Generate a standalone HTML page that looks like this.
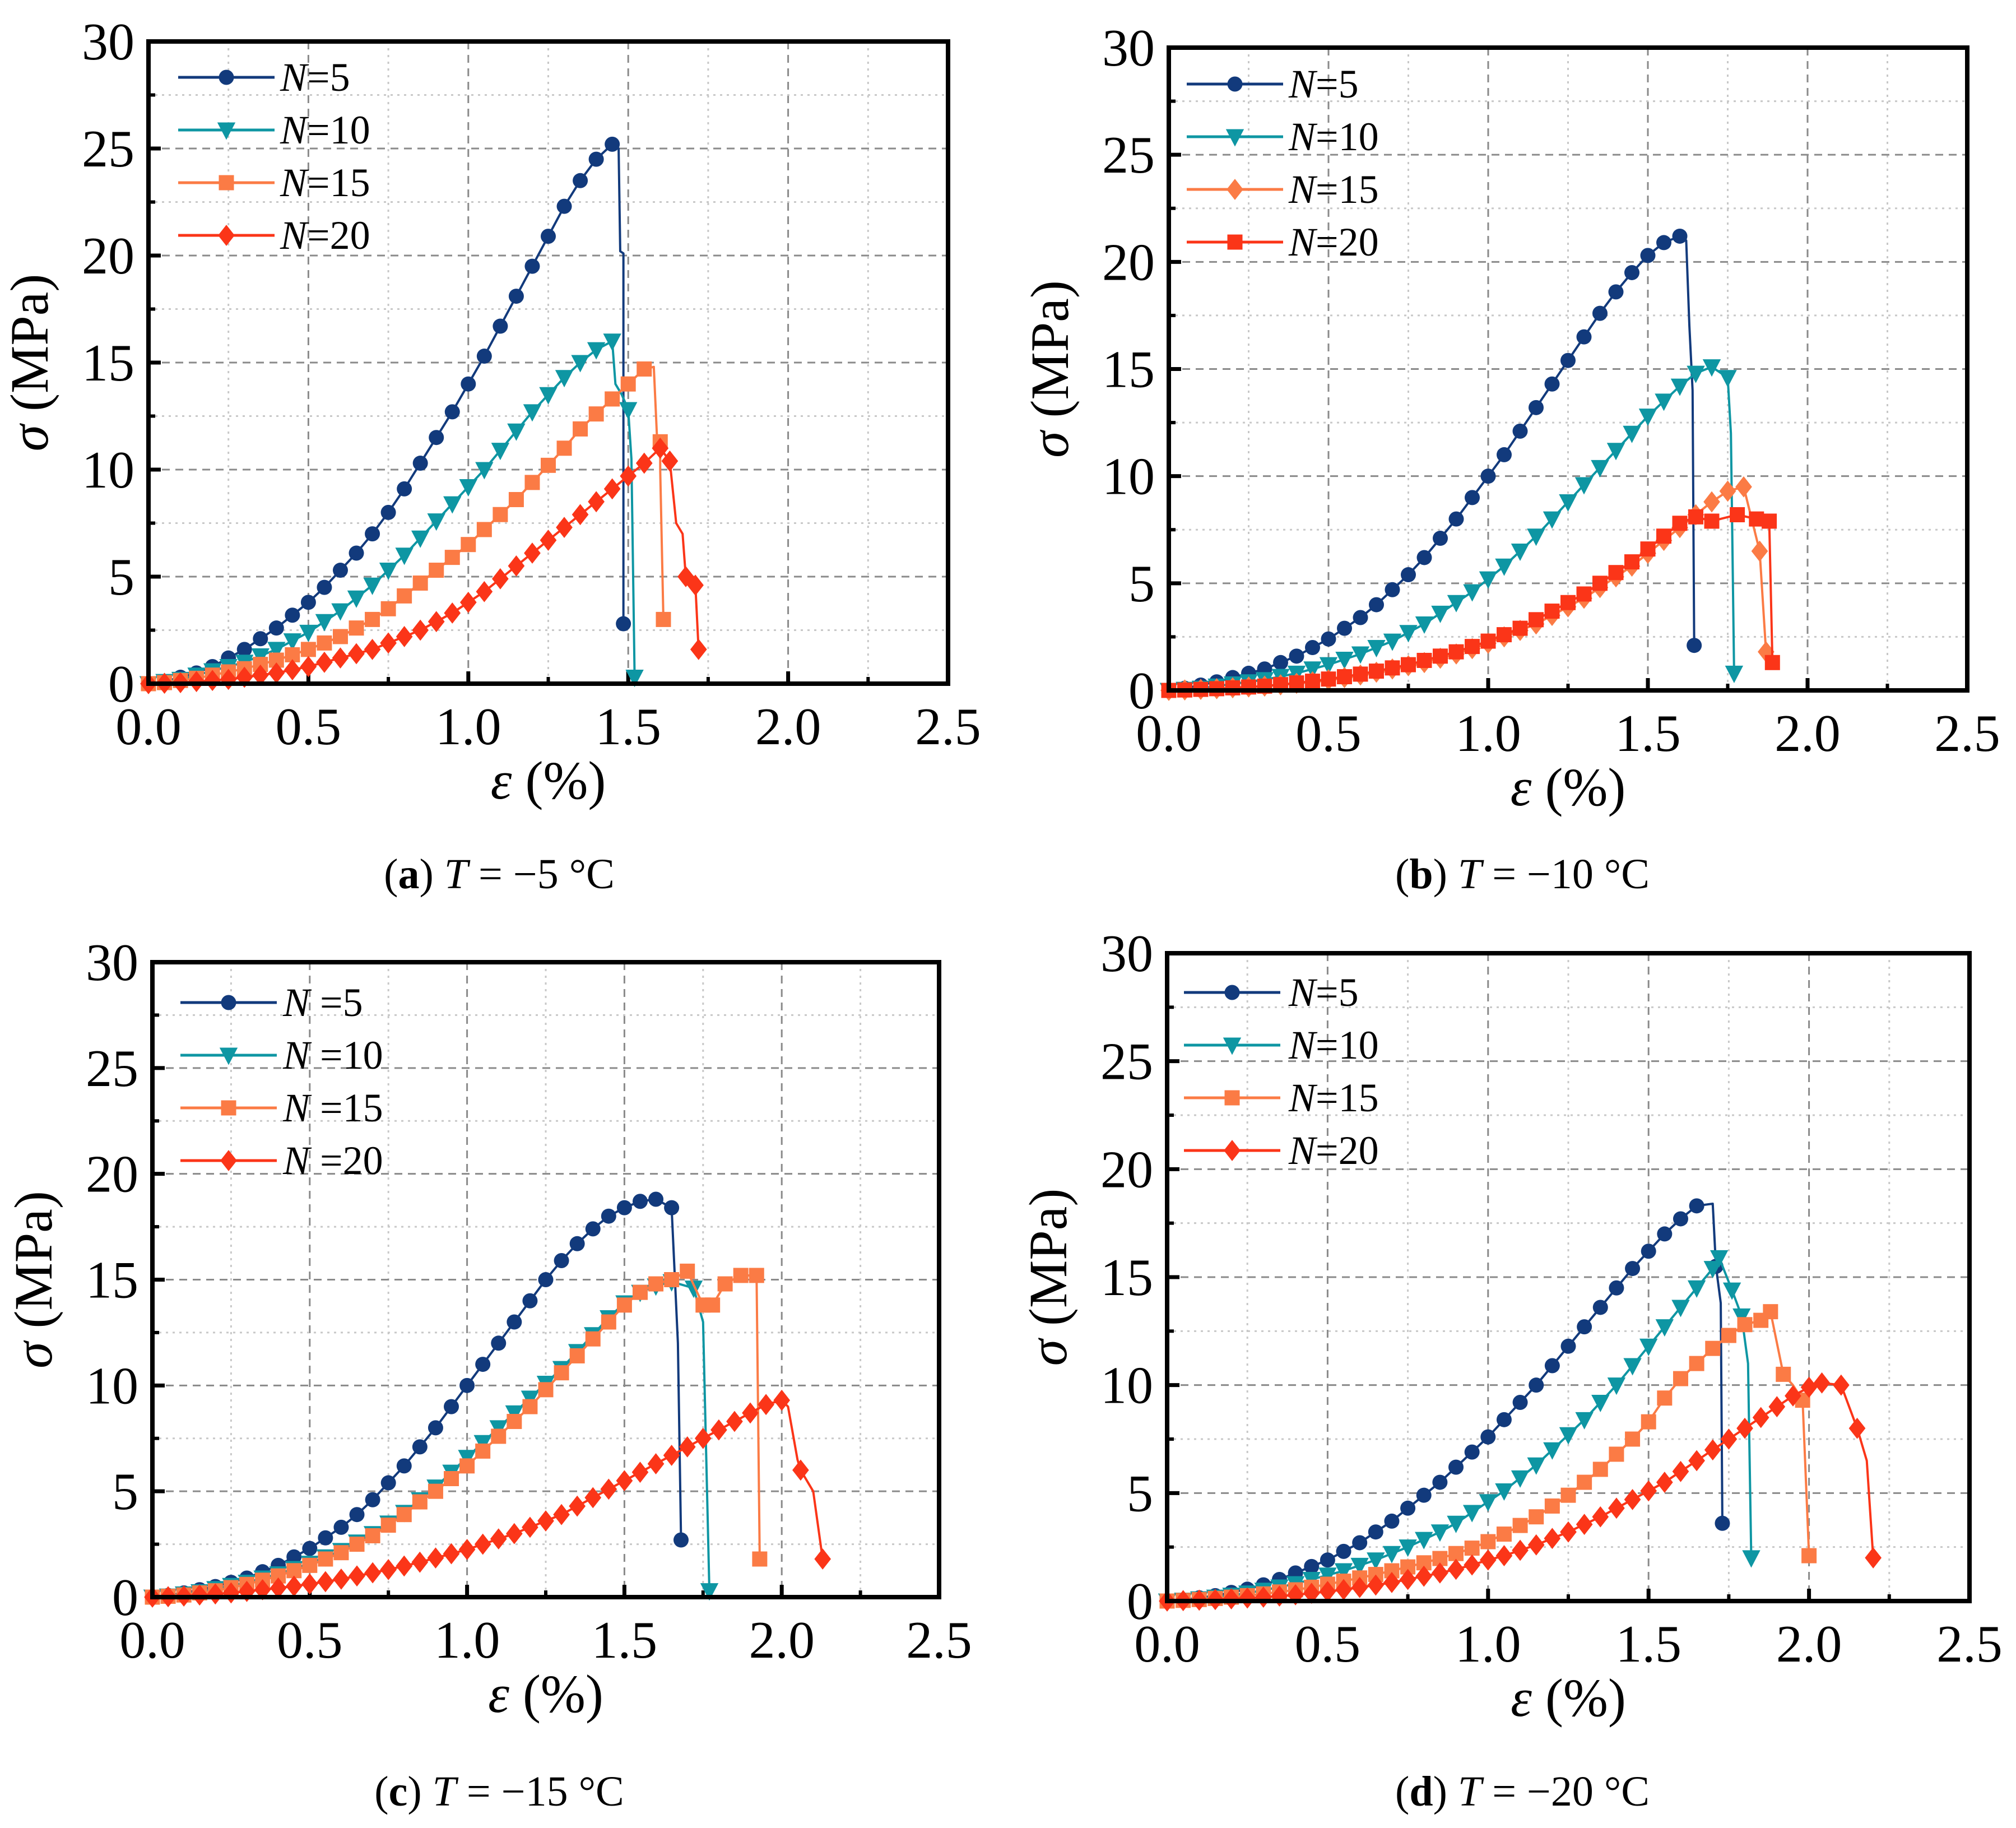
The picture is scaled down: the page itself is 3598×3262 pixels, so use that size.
<!DOCTYPE html>
<html><head><meta charset="utf-8">
<style>
html,body{margin:0;padding:0;background:#fff;}
svg, svg text{font-family:"Liberation Serif","Times New Roman",serif;}
svg{display:block;}
</style></head>
<body>
<svg id="fig" width="3598" height="3262" viewBox="0 0 3598 3262" xmlns="http://www.w3.org/2000/svg" font-family="Liberation Serif, serif"></svg>
<script>
// ===== data (strain step 0.05 for marked rising curves; tail = [x, y, marker]) =====
const STEP = 0.05;
const xTicks = ["0.0","0.5","1.0","1.5","2.0","2.5"];
const yTicks = ["0","5","10","15","20","25","30"];
const seriesNames = ["N=5","N=10","N=15","N=20"];

const a5  = [0,0.1,0.3,0.5,0.8,1.2,1.6,2.1,2.6,3.2,3.8,4.5,5.3,6.1,7.0,8.0,9.1,10.3,11.5,12.7,14.0,15.3,16.7,18.1,19.5,20.9,22.3,23.5,24.5,25.2];
const a5t = [[1.47,25.0,0],[1.475,20.2,0],[1.485,20.1,0],[1.485,2.8,1]];
const a10 = [0,0.1,0.2,0.4,0.6,0.8,1.0,1.3,1.6,2.0,2.4,2.9,3.4,4.0,4.6,5.3,6.0,6.8,7.6,8.4,9.2,10.0,10.9,11.8,12.7,13.5,14.3,15.0,15.6,16.0];
const a10t = [[1.46,14.0,0],[1.48,13.5,0],[1.5,12.8,1],[1.51,10.5,0],[1.52,0.3,1]];
const a15 = [0,0.05,0.15,0.25,0.4,0.55,0.7,0.9,1.1,1.35,1.6,1.9,2.2,2.6,3.0,3.5,4.1,4.7,5.3,5.9,6.5,7.2,7.9,8.6,9.4,10.2,11.0,11.9,12.6,13.3,14.0,14.7];
const a15t = [[1.58,14.8,0],[1.59,11.5,0],[1.6,11.3,1],[1.6,10.0,0],[1.61,3.0,1]];
const a20 = [0,0.02,0.05,0.1,0.15,0.2,0.3,0.4,0.5,0.65,0.8,1.0,1.2,1.4,1.6,1.9,2.2,2.5,2.9,3.3,3.8,4.3,4.9,5.5,6.1,6.7,7.3,7.9,8.5,9.1,9.7,10.3,11.0];
const a20t = [[1.63,10.4,1],[1.65,7.5,0],[1.67,7.0,0],[1.68,5.0,1],[1.71,4.6,1],[1.72,1.6,1]];

const b5  = [0,0.1,0.25,0.4,0.6,0.8,1.0,1.3,1.6,2.0,2.4,2.9,3.4,4.0,4.7,5.4,6.2,7.1,8.0,9.0,10.0,11.0,12.1,13.2,14.3,15.4,16.5,17.6,18.6,19.5,20.3,20.9,21.2];
const b5t = [[1.62,21.0,0],[1.63,17.0,0],[1.64,14.0,0],[1.645,2.1,1]];
const b10 = [0,0.05,0.1,0.2,0.3,0.4,0.5,0.65,0.8,1.0,1.2,1.45,1.7,2.0,2.3,2.7,3.1,3.6,4.1,4.6,5.2,5.8,6.5,7.2,8.0,8.8,9.6,10.4,11.2,12.0,12.8,13.5,14.2,14.8,15.1];
const b10t = [[1.75,14.6,1],[1.76,12.0,0],[1.77,0.8,1]];
const b15 = [0,0.02,0.05,0.08,0.12,0.16,0.2,0.26,0.33,0.4,0.5,0.6,0.72,0.85,1.0,1.15,1.3,1.5,1.7,1.95,2.2,2.5,2.8,3.1,3.5,3.9,4.3,4.8,5.3,5.8,6.4,7.0,7.6,8.2,8.8,9.3,9.5];
const b15t = [[1.85,6.5,1],[1.87,1.8,1]];
const b20 = [0,0.02,0.05,0.08,0.12,0.16,0.2,0.27,0.35,0.43,0.53,0.64,0.76,0.9,1.05,1.2,1.4,1.6,1.8,2.05,2.3,2.6,2.9,3.3,3.7,4.1,4.5,5.0,5.5,6.0,6.6,7.2,7.8,8.1];
const b20t = [[1.7,7.9,1],[1.78,8.2,1],[1.84,8.0,1],[1.88,7.9,1],[1.89,1.3,1]];

const c5  = [0,0.08,0.2,0.35,0.5,0.7,0.9,1.2,1.5,1.9,2.3,2.8,3.3,3.9,4.6,5.4,6.2,7.1,8.0,9.0,10.0,11.0,12.0,13.0,14.0,15.0,15.9,16.7,17.4,18.0,18.4,18.7,18.8];
const c5t = [[1.65,18.4,1],[1.67,12.0,0],[1.68,2.7,1]];
const c10 = [0,0.05,0.15,0.25,0.4,0.55,0.7,0.9,1.1,1.35,1.6,1.9,2.2,2.6,3.0,3.5,4.0,4.6,5.2,5.9,6.6,7.3,8.0,8.7,9.4,10.1,10.8,11.6,12.4,13.2,13.9,14.4,14.7,14.9];
const c10t = [[1.72,14.6,1],[1.75,13.0,0],[1.77,0.3,1]];
const c15 = [0,0.04,0.1,0.2,0.3,0.45,0.6,0.8,1.0,1.25,1.5,1.8,2.1,2.5,2.9,3.4,3.9,4.5,5.0,5.6,6.2,6.9,7.6,8.3,9.0,9.8,10.6,11.4,12.2,13.0,13.8,14.4,14.8,15.0,15.4];
const c15t = [[1.75,13.8,1],[1.78,13.8,1],[1.82,14.8,1],[1.87,15.2,1],[1.92,15.2,1],[1.93,1.8,1]];
const c20 = [0,0.02,0.05,0.1,0.15,0.2,0.27,0.35,0.43,0.52,0.62,0.73,0.85,1.0,1.15,1.3,1.47,1.65,1.85,2.05,2.25,2.5,2.75,3.0,3.3,3.6,3.9,4.3,4.7,5.1,5.5,5.9,6.3,6.7,7.1,7.5,7.9,8.3,8.7,9.1,9.3];
const c20t = [[2.02,9.0,0],[2.05,6.5,0],[2.06,6.0,1],[2.1,5.0,0],[2.13,1.8,1]];

const d5  = [0,0.05,0.15,0.25,0.4,0.55,0.75,1.0,1.3,1.6,1.9,2.3,2.7,3.2,3.7,4.3,4.9,5.5,6.2,6.9,7.6,8.4,9.2,10.0,10.9,11.8,12.7,13.6,14.5,15.4,16.2,17.0,17.7,18.3];
const d5t = [[1.7,18.4,0],[1.71,15.5,1],[1.725,13.8,0],[1.73,3.6,1]];
const d10 = [0,0.04,0.1,0.18,0.27,0.37,0.5,0.65,0.8,1.0,1.2,1.4,1.65,1.9,2.2,2.5,2.85,3.2,3.6,4.1,4.6,5.1,5.7,6.3,7.0,7.7,8.4,9.2,10.0,10.9,11.8,12.7,13.6,14.5,15.4];
const d10t = [[1.72,15.9,1],[1.76,14.4,1],[1.79,13.2,1],[1.81,11.0,0],[1.82,2.0,1]];
const d15 = [0,0.03,0.07,0.12,0.18,0.25,0.33,0.42,0.52,0.64,0.78,0.92,1.07,1.23,1.4,1.58,1.77,1.97,2.2,2.45,2.75,3.1,3.5,3.9,4.4,4.9,5.5,6.1,6.8,7.5,8.3,9.4,10.3,11.0,11.7,12.3,12.8,13.0];
const d15t = [[1.88,13.4,1],[1.92,10.5,1],[1.95,10.0,0],[1.98,9.3,1],[2.0,2.1,1]];
const d20 = [0,0.02,0.04,0.07,0.1,0.14,0.18,0.23,0.29,0.36,0.44,0.53,0.63,0.74,0.86,1.0,1.15,1.3,1.47,1.67,1.9,2.1,2.35,2.6,2.9,3.2,3.55,3.9,4.3,4.7,5.1,5.5,6.0,6.5,7.0,7.5,8.0,8.5,9.0,9.5,9.9];
const d20t = [[2.04,10.1,1],[2.1,10.0,1],[2.15,8.0,1],[2.18,6.5,0],[2.2,2.0,1]];

// ===== layout =====
const colors = ["#123a7c","#0e96a3","#fb7b45","#fb3518"];
const FONT = "Liberation Serif, Times New Roman, serif";
const NS = "http://www.w3.org/2000/svg";
const svg = document.getElementById('fig');
function mk(tag, attrs, parent){const e=document.createElementNS(NS,tag);for(const k in attrs)e.setAttribute(k,attrs[k]);if(tag==='text')e.setAttribute('font-family',FONT);(parent||svg).appendChild(e);return e;}

const panels = [
 {id:"a", box:[265,1692,74,1220], leg:[318,500,138], legSpace:"", markers:["circle","tri","square","diamond"], capT:"−5 °C", capX:891, capY:1585,
  data:[[a5,a5t],[a10,a10t],[a15,a15t],[a20,a20t]]},
 {id:"b", box:[2086,3511,85,1232], leg:[2118,2300,150], legSpace:"", markers:["circle","tri","diamond","square"], capT:"−10 °C", capX:2717, capY:1585,
  data:[[b5,b5t],[b10,b10t],[b15,b15t],[b20,b20t]]},
 {id:"c", box:[272,1676,1717,2850], leg:[322,505,1789], legSpace:" ", markers:["circle","tri","square","diamond"], capT:"−15 °C", capX:891, capY:3222,
  data:[[c5,c5t],[c10,c10t],[c15,c15t],[c20,c20t]]},
 {id:"d", box:[2083,3515,1701,2857], leg:[2113,2300,1771], legSpace:"", markers:["circle","tri","square","diamond"], capT:"−20 °C", capX:2717, capY:3222,
  data:[[d5,d5t],[d10,d10t],[d15,d15t],[d20,d20t]]}
];

function marker(g, type, x, y, col){
  const s = 13.5;
  let e;
  if(type==="circle") e = mk('circle',{cx:x,cy:y,r:s,fill:col},g);
  else if(type==="tri") e = mk('polygon',{points:`${x-s*1.2},${y-s} ${x+s*1.2},${y-s} ${x},${y+s*1.3}`,fill:col},g);
  else if(type==="square") e = mk('rect',{x:x-s,y:y-s,width:2*s,height:2*s,fill:col},g);
  else e = mk('polygon',{points:`${x},${y-s*1.4} ${x+s*1.1},${y} ${x},${y+s*1.4} ${x-s*1.1},${y}`,fill:col},g);
  
  
}

panels.forEach(p=>{
  const [x0,x1,y0,y1] = p.box;
  const sx = v => x0 + (v/2.5)*(x1-x0);
  const sy = v => y1 - (v/30)*(y1-y0);
  const g = mk('g',{});
  
  
  for(let i=1;i<10;i++){
    const xp = sx(i*0.25);
    const l = mk('line',{x1:xp,y1:y0,x2:xp,y2:y1,stroke:i%2? "#c8c8c8":"#8a8a8a","stroke-width":3,"stroke-dasharray":i%2?"4,8":"14,10"},g);
    
    
  }
  for(let i=1;i<12;i++){
    const yp = sy(i*2.5);
    const l = mk('line',{x1:x0,y1:yp,x2:x1,y2:yp,stroke:i%2? "#c8c8c8":"#8a8a8a","stroke-width":3,"stroke-dasharray":i%2?"4,8":"14,10"},g);
    
    
  }
  xTicks.forEach((t,i)=>{
    const xp = sx(i*0.5);
    const tk = mk('line',{x1:xp,y1:y1,x2:xp,y2:y1-22,stroke:"#000","stroke-width":7},g);
    
    
    if(i<5){const m=mk('line',{x1:sx(i*0.5+0.25),y1:y1,x2:sx(i*0.5+0.25),y2:y1-12,stroke:"#000","stroke-width":6},g);
      
      }
    const tx = mk('text',{x:xp,y:y1+108,"font-size":94,"text-anchor":"middle"},g);
    tx.textContent=t;
    
    
  });
  yTicks.forEach((t,i)=>{
    const yp = sy(i*5);
    const tk = mk('line',{x1:x0,y1:yp,x2:x0+22,y2:yp,stroke:"#000","stroke-width":7},g);
    
    
    if(i<6){const m=mk('line',{x1:x0,y1:sy(i*5+2.5),x2:x0+12,y2:sy(i*5+2.5),stroke:"#000","stroke-width":6},g);
      
      }
    const tx = mk('text',{x:x0-25,y:yp+32,"font-size":94,"text-anchor":"end"},g);
    tx.textContent=t;
    
    
  });
  p.data.forEach((sd,si)=>{
    const [ys, tail] = sd;
    const col = colors[si];
    const sg = mk('g',{},g);
    
    
    const pts = ys.map((v,i)=>[sx(i*STEP),sy(v)]);
    tail.forEach(t=>pts.push([sx(t[0]),sy(t[1])]));
    const pl = mk('polyline',{points:pts.map(q=>q.join(',')).join(' '),fill:"none",stroke:col,"stroke-width":4,"stroke-linejoin":"round"},sg);
    
    
    ys.forEach((v,i)=>marker(sg,p.markers[si],sx(i*STEP),sy(v),col));
    tail.forEach(t=>{ if(t[2]) marker(sg,p.markers[si],sx(t[0]),sy(t[1]),col); });
  });
  const fr = mk('rect',{x:x0,y:y0,width:x1-x0,height:y1-y0,fill:"none",stroke:"#000","stroke-width":8},g);
  
  
  const [lx0,tx0,ly0] = p.leg;
  const lg = mk('g',{},g);
  
  
  seriesNames.forEach((n,i)=>{
    const y = ly0 + i*94;
    const e = mk('g',{},lg);
    
    
    mk('line',{x1:lx0,y1:y,x2:lx0+172,y2:y,stroke:colors[i],"stroke-width":5},e);
    marker(e,p.markers[i],lx0+86,y,colors[i]);
    const t = mk('text',{x:tx0,y:y+24,"font-size":72},e);
    const it = mk('tspan',{"font-style":"italic"},t); it.textContent="N";
    const r = mk('tspan',{},t); r.textContent=p.legSpace+"="+n.slice(2);
  });
  const cy = (y0+y1)/2;
  const yt = mk('text',{x:0,y:0,"font-size":96,"text-anchor":"middle",transform:`translate(${x0-180},${cy}) rotate(-90)`},g);
  
  
  const s1 = mk('tspan',{"font-style":"italic"},yt); s1.textContent="σ";
  const s2 = mk('tspan',{},yt); s2.textContent=" (MPa)";
  const xt = mk('text',{x:(x0+x1)/2,y:y1+205,"font-size":96,"text-anchor":"middle"},g);
  
  
  const e1 = mk('tspan',{"font-style":"italic"},xt); e1.textContent="ε";
  const e2 = mk('tspan',{},xt); e2.textContent=" (%)";
  const cp = mk('text',{x:p.capX,y:p.capY,"font-size":76,"text-anchor":"middle"},g);
  
  
  const c0 = mk('tspan',{},cp); c0.textContent="(";
  const c1 = mk('tspan',{"font-weight":"bold"},cp); c1.textContent=p.id;
  const c2 = mk('tspan',{},cp); c2.textContent=") ";
  const c3 = mk('tspan',{"font-style":"italic"},cp); c3.textContent="T";
  const c4 = mk('tspan',{},cp); c4.textContent=" = "+p.capT;
});
</script>
</body></html>
